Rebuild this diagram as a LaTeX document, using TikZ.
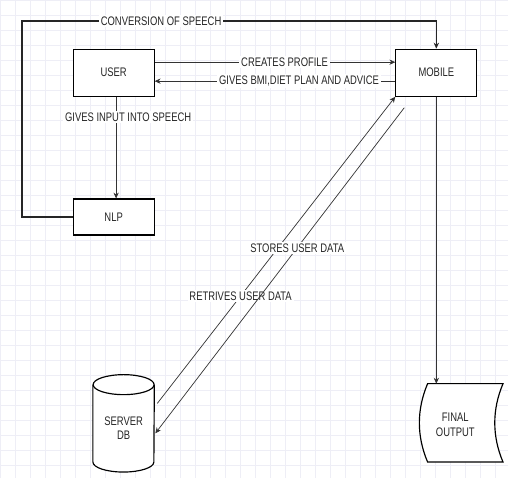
\documentclass[tikz,border=0pt]{standalone}
\usepackage{fontspec}
\newfontfamily\diagfont{Liberation Sans}[FakeStretch=0.76]
\usetikzlibrary{arrows.meta,calc}

\begin{document}
\begin{tikzpicture}[x=0.03cm,y=-0.03cm,>={Stealth[length=5pt,width=4.5pt]},
	every node/.style={font=\diagfont\fontsize{10.6}{12.5}\selectfont,text=black!85}]
	\tikzset{
		box/.style={draw,line width=1pt,fill=white,minimum width=2.43cm},
		link/.style={->,line width=0.6pt,draw=black!80},
		loop/.style={->,line width=1.3pt,draw=black!85},
		tag/.style={fill=white,inner sep=1.5pt}
	}
	% page and grid
	\fill[white] (0,0) rectangle (508,478);
	\draw[blue!30!gray!10,line width=0.4pt,step=0.45cm] (0,0) grid (508,478);
	\useasboundingbox (0,0) rectangle (508,478);

	\node[box,minimum height=1.41cm] (user) at (113.5,72.5) {USER};
	\node[box,minimum height=1.41cm] (mobile) at (436.5,72.5) {MOBILE};
	\node[box,minimum height=1.08cm] (nlp) at (113.5,217) {NLP};

	% database
	\node[minimum width=1.83cm,minimum height=2.91cm] (db) at (123.5,423.5) {};
	\draw[line width=1pt,fill=white] (db.north west) ++(0,10) -- ($(db.south west)+(0,-10)$)
		arc[start angle=180,end angle=360,x radius=0.915cm,y radius=0.3cm] -- ($(db.north east)+(0,10)$);
	\draw[line width=1pt,fill=white] ($(db.north)+(0,10)$) ellipse[x radius=0.915cm,y radius=0.3cm];
	\node[align=center] at ($(db.center)+(0,5)$) {SERVER\\DB};

	% stored output
	\node[minimum width=2.25cm,minimum height=2.34cm] (final) at (465.5,423) {};
	\draw[line width=1pt,fill=white] (final.north west) -- (final.north east)
		.. controls ($(final.north east)+(-11,26)$) and ($(final.south east)+(-11,-26)$) .. (final.south east)
		-- (final.south west)
		.. controls ($(final.south west)+(-11,-26)$) and ($(final.north west)+(-11,26)$) .. (final.north west) -- cycle;
	\node[align=center] at ($(final.center)+(-10,2)$) {FINAL\\OUTPUT};

	% connectors
	\coordinate (corner) at (22,21);
	\draw[loop] (nlp.west) -| (corner) -| (mobile.north);
	\node[tag] (conv) at (161,21) {CONVERSION OF SPEECH};

	\draw[link] ($(user.east)+(0,-10.5)$) -- ($(mobile.west)+(0,-10.5)$)
		node[tag,pos=0.54] {CREATES PROFILE};
	\draw[link] ($(mobile.west)+(0,8.5)$) -- ($(user.east)+(0,8.5)$)
		node[tag,pos=0.40] {GIVES BMI,DIET PLAN AND ADVICE};

	\draw[link] ($(user.south)+(2.5,0)$) -- ($(nlp.north)+(2.5,0)$);
	\node[tag] (speech) at (128,117) {GIVES INPUT INTO SPEECH};

	\draw[link] ($(db.east)+(3,-20)$) -- (mobile.south west)
		node[tag,pos=0.35] {RETRIVES USER DATA};
	\draw[link] ($(mobile.south west)+(9,11)$) -- ($(db.east)+(1,10)$)
		node[tag,pos=0.43] {STORES USER DATA};

	\draw[link] (mobile.south) -- (mobile.south |- final.north);
\end{tikzpicture}
\end{document}
